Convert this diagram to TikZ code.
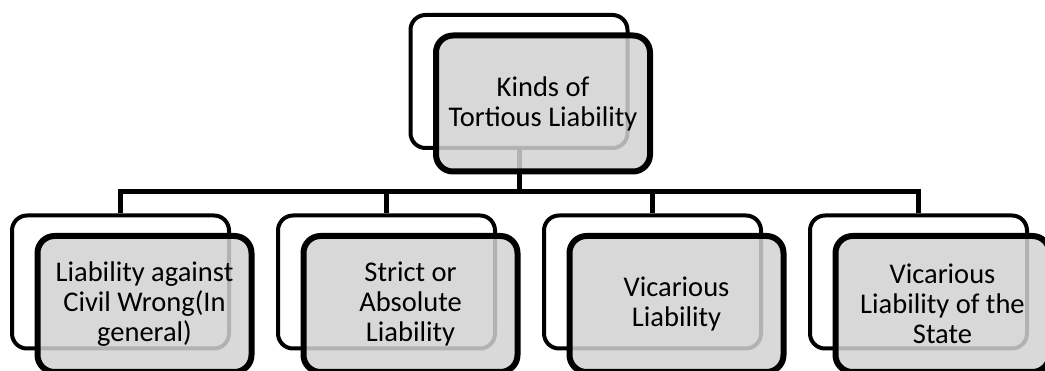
\documentclass[tikz,border=0pt]{standalone}
\usepackage{fontspec}
\setmainfont{Carlito}
\usetikzlibrary{positioning}
\definecolor{GrisBoite}{HTML}{D2D2D2}

\begin{document}
\begin{tikzpicture}
	[x=1pt, y=1pt, node distance=45pt,
	every node/.style = {shape=rectangle, align=center, inner sep=0pt},
	backbox/.style = {draw=black, line width=4pt, rounded corners=15pt, fill=white,
		minimum width=217pt, minimum height=133pt},
	frontbox/.style = {draw=black, line width=6pt, rounded corners=17pt,
		fill=GrisBoite, fill opacity=0.85, text opacity=1,
		minimum width=214pt, minimum height=136pt, xshift=24pt, yshift=-22pt,
		font=\fontsize{28.5}{30}\selectfont},
	link/.style = {draw=black, line width=5pt}]
	\useasboundingbox (0,0) rectangle (1045,-371);
	\node[backbox] (back-kinds) at (519,-81.5) {};
	\node[backbox] (back-lib) at (120.5,-282) {};
	\node[backbox, right=of back-lib] (back-strict) {};
	\node[backbox, right=of back-strict] (back-vic) {};
	\node[backbox, right=of back-vic] (back-state) {};
	\foreach \kind in {lib,strict,vic,state}
		\draw[link] (back-kinds.south) -- ++(0,-42) -| (back-\kind.north);
	\node[frontbox] (kinds) at (back-kinds) {Kinds of\\Tortious Liability};
	\node[frontbox] (lib) at (back-lib) {Liability against\\Civil Wrong(In\\general)};
	\node[frontbox] (strict) at (back-strict) {Strict or\\Absolute\\Liability};
	\node[frontbox] (vic) at (back-vic) {Vicarious\\Liability};
	\node[frontbox] (state) at (back-state) {Vicarious\\Liability of the\\State};
\end{tikzpicture}
\end{document}
